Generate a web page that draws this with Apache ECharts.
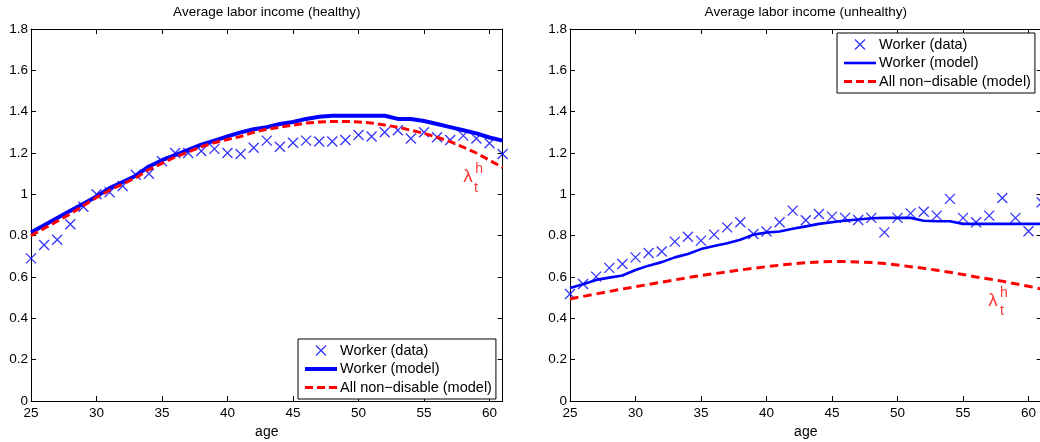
<!DOCTYPE html>
<html>
<head>
<meta charset="utf-8">
<script src="https://cdn.jsdelivr.net/npm/echarts@6/dist/echarts.min.js"></script>
<style>
html,body{margin:0;padding:0;background:#fff;}
#chart{width:1040px;height:442px;}
</style>
</head>
<body>
<div id="chart"></div>
<script>
// ---------- data ----------
const ages = [25,26,27,28,29,30,31,32,33,34,35,36,37,38,39,40,41,42,43,44,45,46,47,48,49,50,51,52,53,54,55,56,57,58,59,60,61];
const xTicks = [25,30,35,40,45,50,55,60];
const yTicks = [0,0.2,0.4,0.6,0.8,1,1.2,1.4,1.6,1.8];

const healthyData = [0.69,0.755,0.78,0.855,0.94,1.00,1.01,1.04,1.095,1.10,1.16,1.20,1.20,1.21,1.22,1.20,1.195,1.225,1.26,1.23,1.25,1.26,1.256,1.256,1.263,1.287,1.28,1.30,1.31,1.27,1.30,1.276,1.263,1.284,1.27,1.247,1.195];
const healthyModel = [0.815,0.85,0.885,0.92,0.955,0.99,1.03,1.06,1.09,1.135,1.165,1.19,1.215,1.24,1.26,1.28,1.30,1.315,1.325,1.34,1.35,1.365,1.375,1.38,1.38,1.38,1.38,1.38,1.365,1.365,1.355,1.34,1.325,1.31,1.295,1.275,1.26];
const healthyAll = [0.80,0.835,0.87,0.905,0.945,0.985,1.02,1.05,1.08,1.12,1.15,1.18,1.205,1.23,1.25,1.265,1.28,1.30,1.315,1.325,1.335,1.345,1.35,1.353,1.353,1.35,1.345,1.335,1.325,1.31,1.295,1.276,1.255,1.228,1.2,1.165,1.13];

const unhealthyData = [0.518,0.566,0.602,0.644,0.663,0.695,0.716,0.723,0.771,0.795,0.776,0.805,0.84,0.865,0.808,0.82,0.865,0.921,0.875,0.905,0.892,0.886,0.876,0.886,0.816,0.886,0.908,0.916,0.897,0.978,0.886,0.865,0.897,0.982,0.886,0.821,0.961];
const unhealthyModel = [0.547,0.565,0.586,0.597,0.607,0.634,0.655,0.672,0.695,0.711,0.735,0.75,0.763,0.78,0.805,0.815,0.82,0.833,0.845,0.857,0.865,0.873,0.878,0.884,0.886,0.886,0.886,0.872,0.87,0.87,0.857,0.857,0.857,0.857,0.857,0.857,0.857];
const unhealthyAll = [0.494,0.506,0.518,0.53,0.542,0.553,0.564,0.575,0.586,0.597,0.607,0.616,0.625,0.634,0.642,0.65,0.657,0.664,0.669,0.673,0.675,0.675,0.673,0.67,0.665,0.658,0.65,0.642,0.633,0.623,0.612,0.6,0.59,0.58,0.567,0.555,0.542];

const titles = ['Average labor income (healthy)', 'Average labor income (unhealthy)'];
const xName = 'age';
const seriesNames = ['Worker (data)', 'Worker (model)', 'All non\u2212disable (model)'];

// annotation text anchors (data coordinates): lambda, superscript h, subscript t
const noteTexts = ['\u03bb', 'h', 't'];
const leftNoteX = [58.36, 59.2, 58.97];
const leftNoteY = [1.086, 1.12, 1.028];
const rightNoteX = [57.29, 58.13, 57.98];
const rightNoteY = [0.486, 0.52, 0.4325];

// ---------- styling ----------
const FONT = "'Liberation Sans', Arial, Helvetica, sans-serif";
const BLUE = '#0000ff';
const RED = '#ff0000';
const X_SYMBOL = 'path://M0,0L10,10M10,0L0,10';

const pairs = (ys) => ages.map((a, i) => [a, ys[i]]);

const grids = [
  { left: 31, top: 29, width: 471.6, height: 372, containLabel: false, outerBoundsMode: 'none' },
  { left: 570, top: 29, width: 471.6, height: 372, containLabel: false, outerBoundsMode: 'none' }
];

function xAxes(gi) {
  const base = {
    type: 'value', gridIndex: gi, min: 25, max: 61, interval: 5,
    splitLine: { show: false },
    axisLine: { show: true, onZero: false, lineStyle: { color: '#000', width: 1 } },
    axisTick: { show: true, inside: true, length: 5, lineStyle: { color: '#000' } }
  };
  return [
    Object.assign({}, base, {
      position: 'bottom',
      name: xName, nameLocation: 'middle', nameGap: 17,
      nameTextStyle: { fontFamily: FONT, fontSize: 14, color: '#000' },
      axisLabel: {
        show: true, margin: 5, fontFamily: FONT, fontSize: 13.5, color: '#000',
        formatter: (v) => (xTicks.indexOf(v) >= 0 ? String(v) : '')
      }
    }),
    Object.assign({}, base, {
      position: 'top',
      name: titles[gi], nameLocation: 'middle', nameGap: 10,
      nameTextStyle: { fontFamily: FONT, fontSize: 13.5, color: '#000' },
      axisLabel: { show: false }
    })
  ];
}

function yAxes(gi) {
  const base = {
    type: 'value', gridIndex: gi, min: yTicks[0], max: yTicks[yTicks.length - 1], interval: 0.2,
    splitLine: { show: false },
    axisLine: { show: true, onZero: false, lineStyle: { color: '#000', width: 1 } },
    axisTick: { show: true, inside: true, length: 5, lineStyle: { color: '#000' } }
  };
  return [
    Object.assign({}, base, {
      position: 'left',
      axisLabel: {
        show: true, margin: 3, fontFamily: FONT, fontSize: 13.5, color: '#000',
        formatter: (v) => String(Math.round(v * 10) / 10)
      }
    }),
    Object.assign({}, base, { position: 'right', axisLabel: { show: false } })
  ];
}

function panelSeries(gi, dataVals, modelVals, allVals, modelWidth, redDash, noteX, noteY) {
  const axIdx = gi * 2;
  return [
    {
      name: seriesNames[0], type: 'scatter', xAxisIndex: axIdx, yAxisIndex: axIdx,
      data: pairs(dataVals), symbol: X_SYMBOL, symbolSize: 10,
      itemStyle: { color: BLUE, borderColor: BLUE, borderWidth: 1.3 },
      z: 2
    },
    {
      name: seriesNames[1], type: 'line', xAxisIndex: axIdx, yAxisIndex: axIdx,
      data: pairs(modelVals), symbol: 'none', showSymbol: false,
      itemStyle: { color: BLUE },
      lineStyle: { color: BLUE, width: modelWidth, cap: 'butt', join: 'round' },
      z: 3
    },
    {
      name: seriesNames[2], type: 'line', xAxisIndex: axIdx, yAxisIndex: axIdx,
      data: pairs(allVals), symbol: 'none', showSymbol: false,
      itemStyle: { color: RED },
      lineStyle: { color: RED, width: 3, type: redDash, cap: 'butt' },
      z: 4
    },
    {
      name: 'notes' + gi, type: 'scatter', xAxisIndex: axIdx, yAxisIndex: axIdx,
      silent: true, symbol: 'circle', symbolSize: 1,
      itemStyle: { color: 'rgba(0,0,0,0)' },
      data: noteTexts.map((t, i) => ({
        value: [noteX[i], noteY[i]],
        label: {
          show: true, position: 'inside', formatter: t,
          fontFamily: FONT, fontSize: i === 0 ? 19 : 14, color: RED
        }
      })),
      z: 5
    }
  ];
}

function legendFor(left, top, lineWidth) {
  return {
    left: left, top: top, orient: 'vertical',
    padding: [4, 4, 4, 7], itemGap: 3.5, itemWidth: 32, itemHeight: 10,
    backgroundColor: '#fff', borderColor: '#000', borderWidth: 1, borderRadius: 0,
    selectedMode: false,
    textStyle: { fontFamily: FONT, fontSize: 14.5, color: '#000', padding: [0, 0, 0, -2] },
    data: [
      { name: seriesNames[0], icon: X_SYMBOL,
        itemStyle: { color: BLUE, borderColor: BLUE, borderWidth: 1.3 } },
      { name: seriesNames[1], icon: 'path://M0,0h32v' + lineWidth + 'h-32z',
        itemStyle: { color: BLUE, borderWidth: 0 } },
      { name: seriesNames[2], icon: 'path://M0,0h8v3h-8zM12,0h8v3h-8zM24,0h8v3h-8z',
        itemStyle: { color: RED, borderWidth: 0 } }
    ]
  };
}

const option = {
  animation: false,
  backgroundColor: '#fff',
  textStyle: { fontFamily: FONT },
  grid: grids,
  xAxis: xAxes(0).concat(xAxes(1)),
  yAxis: yAxes(0).concat(yAxes(1)),
  legend: [legendFor(298, 339, 4), legendFor(837, 33, 2.6)],
  series: panelSeries(0, healthyData, healthyModel, healthyAll, 4, [8, 4], leftNoteX, leftNoteY)
    .concat(panelSeries(1, unhealthyData, unhealthyModel, unhealthyAll, 2.6, [8.5, 5], rightNoteX, rightNoteY))
};

const chart = echarts.init(document.getElementById('chart'), null, { renderer: 'canvas' });
chart.setOption(option);
</script>
</body>
</html>
